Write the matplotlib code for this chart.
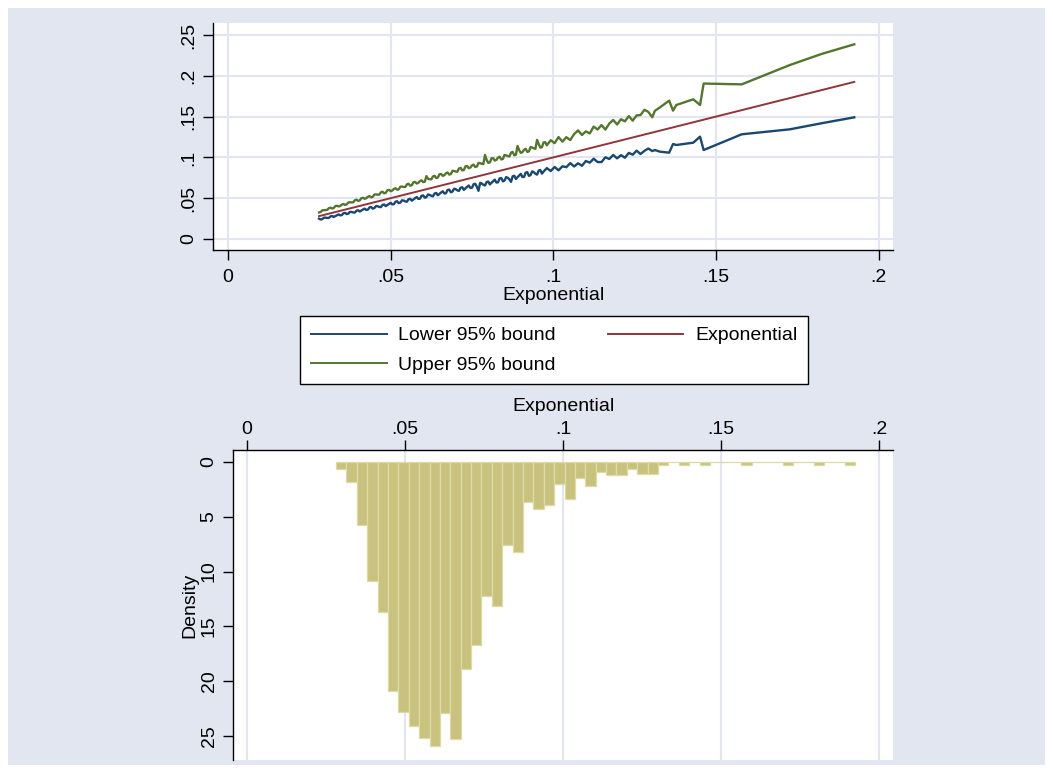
import matplotlib
matplotlib.use("Agg")
import matplotlib.pyplot as plt
import numpy as np
from matplotlib.patches import Rectangle

plt.rcParams['font.family'] = ['Liberation Sans', 'DejaVu Sans']

# ---------------- data ----------------
# sorted Exponential values (x) at which the bounds are drawn (dense part, two interleaved sets)
x_dense_a = [0.028, 0.029, 0.030, 0.031, 0.032, 0.033, 0.034, 0.035, 0.036, 0.037,
             0.038, 0.039, 0.040, 0.041, 0.042, 0.043, 0.044, 0.045, 0.046, 0.047,
             0.048, 0.049, 0.050, 0.051, 0.052, 0.053, 0.054, 0.055, 0.056, 0.057,
             0.058, 0.059, 0.060, 0.061, 0.062, 0.063, 0.064, 0.065, 0.066, 0.067,
             0.068, 0.069, 0.070, 0.071, 0.072, 0.073, 0.074, 0.075, 0.076, 0.077,
             0.078, 0.079, 0.080, 0.081, 0.082, 0.083, 0.084, 0.085, 0.086, 0.087,
             0.088, 0.089, 0.090, 0.091, 0.092, 0.093, 0.094, 0.095, 0.096, 0.097,
             0.098]
lower_dense_a = [0.02488, 0.02444, 0.02614, 0.02577, 0.02816, 0.02810, 0.03012, 0.02929, 0.03200, 0.03118,
                 0.03312, 0.03241, 0.03521, 0.03490, 0.03722, 0.03598, 0.03912, 0.03791, 0.04010, 0.03905,
                 0.04226, 0.04171, 0.04431, 0.04267, 0.04624, 0.04465, 0.04707, 0.04569, 0.04931, 0.04852,
                 0.05141, 0.04936, 0.05336, 0.05139, 0.05405, 0.05233, 0.05636, 0.05533, 0.05851, 0.05604,
                 0.06048, 0.05812, 0.06102, 0.05897, 0.06340, 0.06214, 0.06560, 0.06273, 0.06760, 0.05900,
                 0.06800, 0.06561, 0.07045, 0.06894, 0.07270, 0.06942, 0.07472, 0.07159, 0.07498, 0.07000,
                 0.07750, 0.07575, 0.07979, 0.07611, 0.08184, 0.07833, 0.08195, 0.07889, 0.08455, 0.08256,
                 0.08689]
upper_dense_a = [0.03252, 0.03509, 0.03544, 0.03769, 0.03734, 0.04022, 0.03987, 0.04205, 0.04180, 0.04478,
                 0.04489, 0.04743, 0.04667, 0.04998, 0.04925, 0.05167, 0.05108, 0.05447, 0.05434, 0.05716,
                 0.05600, 0.05974, 0.05862, 0.06129, 0.06036, 0.06416, 0.06379, 0.06690, 0.06533, 0.06950,
                 0.06800, 0.07090, 0.06964, 0.07700, 0.07323, 0.07664, 0.07466, 0.07926, 0.07738, 0.08052,
                 0.07892, 0.08353, 0.08268, 0.08637, 0.08398, 0.08902, 0.08675, 0.09013, 0.08820, 0.09322,
                 0.09213, 0.10300, 0.09331, 0.09878, 0.09613, 0.09975, 0.09748, 0.10291, 0.10158, 0.10584,
                 0.10264, 0.11400, 0.10550, 0.10937, 0.10676, 0.11260, 0.11103, 0.12150, 0.11197, 0.11830,
                 0.11488]

x_dense_b = [0.0285, 0.0295, 0.0305, 0.0315, 0.0325, 0.0335, 0.0345, 0.0355, 0.0365, 0.0375,
             0.0385, 0.0395, 0.0405, 0.0415, 0.0425, 0.0435, 0.0445, 0.0455, 0.0465, 0.0475,
             0.0485, 0.0495, 0.0505, 0.0515, 0.0525, 0.0535, 0.0545, 0.0555, 0.0565, 0.0575,
             0.0585, 0.0595, 0.0605, 0.0615, 0.0625, 0.0635, 0.0645, 0.0655, 0.0665, 0.0675,
             0.0685, 0.0695, 0.0705, 0.0715, 0.0725, 0.0735, 0.0745, 0.0755, 0.0765, 0.0775,
             0.0785, 0.0795, 0.0805, 0.0815, 0.0825, 0.0835, 0.0845, 0.0855, 0.0865, 0.0875,
             0.0885, 0.0895, 0.0905, 0.0915, 0.0925, 0.0935, 0.0945, 0.0955, 0.0965, 0.0975]
lower_dense_b = [0.02385, 0.02614, 0.02579, 0.02764, 0.02701, 0.02910, 0.02897, 0.03156, 0.03054, 0.03323,
                 0.03255, 0.03466, 0.03365, 0.03605, 0.03568, 0.03868, 0.03723, 0.04033, 0.03931, 0.04168,
                 0.04029, 0.04301, 0.04239, 0.04580, 0.04392, 0.04742, 0.04607, 0.04871, 0.04693, 0.04996,
                 0.04911, 0.05292, 0.05061, 0.05452, 0.05283, 0.05573, 0.05357, 0.05691, 0.05582, 0.06004,
                 0.05729, 0.06162, 0.05959, 0.06276, 0.06021, 0.06386, 0.06253, 0.06716, 0.06398, 0.06871,
                 0.06635, 0.06978, 0.06685, 0.07081, 0.06924, 0.07428, 0.07067, 0.07581, 0.07311, 0.07680,
                 0.07349, 0.07777, 0.07595, 0.08140, 0.07736, 0.08290, 0.07987, 0.08383, 0.08013, 0.08472]
upper_dense_b = [0.03310, 0.03536, 0.03568, 0.03840, 0.03793, 0.04074, 0.04056, 0.04287, 0.04238, 0.04496,
                 0.04504, 0.04816, 0.04726, 0.05048, 0.04996, 0.05253, 0.05166, 0.05455, 0.05439, 0.05792,
                 0.05658, 0.06022, 0.05936, 0.06220, 0.06094, 0.06414, 0.06374, 0.06768, 0.06591, 0.06995,
                 0.06876, 0.07186, 0.07022, 0.07373, 0.07309, 0.07744, 0.07524, 0.07969, 0.07816, 0.08152,
                 0.07950, 0.08333, 0.08244, 0.08720, 0.08457, 0.08942, 0.08756, 0.09119, 0.08878, 0.09292,
                 0.09180, 0.09696, 0.09390, 0.09916, 0.09696, 0.10085, 0.09806, 0.10251, 0.10115, 0.10672,
                 0.10322, 0.10890, 0.10636, 0.11052, 0.10734, 0.11210, 0.11050, 0.11648, 0.11255, 0.11863]

x_mid = [0.0992, 0.1004, 0.1016, 0.1028, 0.1040, 0.1052, 0.1064, 0.1076, 0.1088, 0.1100,
         0.1112, 0.1124, 0.1136, 0.1148, 0.1160, 0.1172, 0.1184, 0.1196, 0.1208, 0.1220,
         0.1232, 0.1244, 0.1256, 0.1268, 0.1280, 0.1292, 0.1304]
lower_mid = [0.08331, 0.08824, 0.08417, 0.08910, 0.08802, 0.09295, 0.08887, 0.09278, 0.08970, 0.09561,
             0.09352, 0.09843, 0.09433, 0.09424, 0.10014, 0.09803, 0.10293, 0.09882, 0.10271, 0.09960,
             0.10549, 0.10337, 0.10825, 0.10413, 0.10801, 0.11088, 0.10775]
upper_mid = [0.12105, 0.11748, 0.12490, 0.11933, 0.12476, 0.12119, 0.12862, 0.13304, 0.12747, 0.13190,
             0.12933, 0.13776, 0.13418, 0.13961, 0.13404, 0.14147, 0.14590, 0.14032, 0.14675, 0.14418,
             0.15061, 0.14504, 0.15146, 0.15189, 0.15832, 0.15575, 0.14918]

x_tail = [0.1312, 0.1328, 0.1356, 0.1368, 0.1378, 0.1430, 0.1451, 0.1462, 0.1579, 0.1727, 0.1824, 0.1925]
lower_tail = [0.1090, 0.1070, 0.1058, 0.1164, 0.1152, 0.1180, 0.1254, 0.1090, 0.1283, 0.1344, 0.1418, 0.1491]
upper_tail = [0.1570, 0.1614, 0.1695, 0.1573, 0.1642, 0.1712, 0.1642, 0.1905, 0.1895, 0.2132, 0.2267, 0.2386]

rows = sorted(zip(x_dense_a + x_dense_b + x_mid + x_tail,
                  lower_dense_a + lower_dense_b + lower_mid + lower_tail,
                  upper_dense_a + upper_dense_b + upper_mid + upper_tail))
exponential = [r[0] for r in rows]
lower_bound = [r[1] for r in rows]
upper_bound = [r[2] for r in rows]

# histogram of Exponential: 50 bins between min and max, density heights
hist_min, hist_max, n_bins = 0.0282, 0.1925, 50
hist_density = [0.61, 1.82, 5.78, 10.9, 13.7, 20.9, 22.8, 24.1, 25.2, 25.9,
                22.9, 25.3, 18.9, 16.7, 12.2, 13.1, 7.6, 8.2, 3.65, 4.26,
                3.95, 2.0, 3.35, 1.5, 2.2, 0.91, 1.22, 1.22, 0.6, 1.1,
                1.1, 0.3, 0.0, 0.3, 0.0, 0.3, 0.0, 0.0, 0.0, 0.3,
                0.0, 0.0, 0.0, 0.3, 0.0, 0.0, 0.3, 0.0, 0.0, 0.3]

x_ticks = [0, 0.05, 0.1, 0.15, 0.2]
x_ticklabels = ['0', '.05', '.1', '.15', '.2']
y_ticks_top = [0, 0.05, 0.1, 0.15, 0.2, 0.25]
y_ticklabels_top = ['0', '.05', '.1', '.15', '.2', '.25']
y_ticks_hist = [0, 5, 10, 15, 20, 25]

# ---------------- style ----------------
BG = '#e1e6f1'
GRID = '#e1e6f1'
NAVY = '#1a476f'
MAROON = '#90353b'
GREEN = '#55752f'
KHAKI = '#c9c27e'
KHAKI_EDGE = '#dedaa6'
FS = 14

W, H = 1053, 772
fig = plt.figure(figsize=(W / 100, H / 100), dpi=100, facecolor='white')
fig.patches.append(Rectangle((8 / W, 7 / H), (W - 16) / W, (H - 15) / H,
                             transform=fig.transFigure, facecolor=BG,
                             edgecolor='none', zorder=-10))


def fax(l, t, r, b):
    return [l / W, 1 - b / H, (r - l) / W, (b - t) / H]


# ---- top plot ----
ax1 = fig.add_axes(fax(213, 23, 893, 250))
ax1.set_facecolor('white')
l1, = ax1.plot(exponential, lower_bound, color=NAVY, lw=1.7, zorder=3)
l2, = ax1.plot(exponential, exponential, color=MAROON, lw=1.4, zorder=3)
l3, = ax1.plot(exponential, upper_bound, color=GREEN, lw=1.7, zorder=3)
ax1.set_xlim(-0.0046, 0.2044)
ax1.set_ylim(-0.0135, 0.2647)
ax1.set_xticks(x_ticks)
ax1.set_xticklabels(x_ticklabels)
ax1.set_yticks(y_ticks_top)
ax1.set_yticklabels(y_ticklabels_top, rotation=90, va='center')
ax1.grid(True, color=GRID, lw=1.5, zorder=0)
ax1.set_axisbelow(True)
for s in ['top', 'right']:
    ax1.spines[s].set_visible(False)
for s in ['left', 'bottom']:
    ax1.spines[s].set_linewidth(1.0)
ax1.tick_params(length=7, width=1, labelsize=FS)
ax1.tick_params(axis='x', pad=6.5)
ax1.tick_params(axis='y', pad=4)
ax1.set_xlabel('Exponential', fontsize=FS, labelpad=1)

# ---- legend ----
leg = fig.legend([l1, l3, l2], ['Lower 95% bound', 'Upper 95% bound', 'Exponential'],
                 ncol=2, loc='upper left',
                 bbox_to_anchor=(300 / W, 1 - 386 / H, 508 / W, 70 / H),
                 mode='expand', borderaxespad=0, fontsize=FS,
                 handlelength=3.9, handletextpad=0.6, columnspacing=2.1,
                 borderpad=0.55, labelspacing=0.6, fancybox=False,
                 frameon=True, edgecolor='black', facecolor='white', framealpha=1)
leg.get_frame().set_linewidth(1.0)
for h in leg.get_lines():
    h.set_linewidth(1.4)

# ---- histogram (hanging bars) ----
ax2 = fig.add_axes(fax(233, 450, 893, 760))
ax2.set_facecolor('white')
edges = np.linspace(hist_min, hist_max, n_bins + 1)
bw = edges[1] - edges[0]
ax2.bar(edges[:-1], hist_density, width=bw, align='edge', color=KHAKI,
        edgecolor=KHAKI_EDGE, linewidth=0.9, zorder=3)
ax2.set_xlim(-0.0044, 0.2044)
ax2.set_ylim(27.2, -1.1)
ax2.xaxis.set_ticks_position('top')
ax2.xaxis.set_label_position('top')
ax2.set_xticks(x_ticks)
ax2.set_xticklabels(x_ticklabels)
ax2.set_yticks(y_ticks_hist)
ax2.set_yticklabels([str(v) for v in y_ticks_hist], rotation=90, va='center')
ax2.grid(True, axis='x', color=GRID, lw=1.5, zorder=0)
ax2.set_axisbelow(True)
for s in ['bottom', 'right']:
    ax2.spines[s].set_visible(False)
for s in ['left', 'top']:
    ax2.spines[s].set_linewidth(1.0)
ax2.tick_params(length=7, width=1, labelsize=FS)
ax2.tick_params(axis='x', pad=1.5)
ax2.tick_params(axis='y', pad=4)
ax2.set_xlabel('Exponential', fontsize=FS, labelpad=7)
ax2.set_ylabel('Density', fontsize=FS, labelpad=2)

fig.savefig('out.png', dpi=100, facecolor='white')
